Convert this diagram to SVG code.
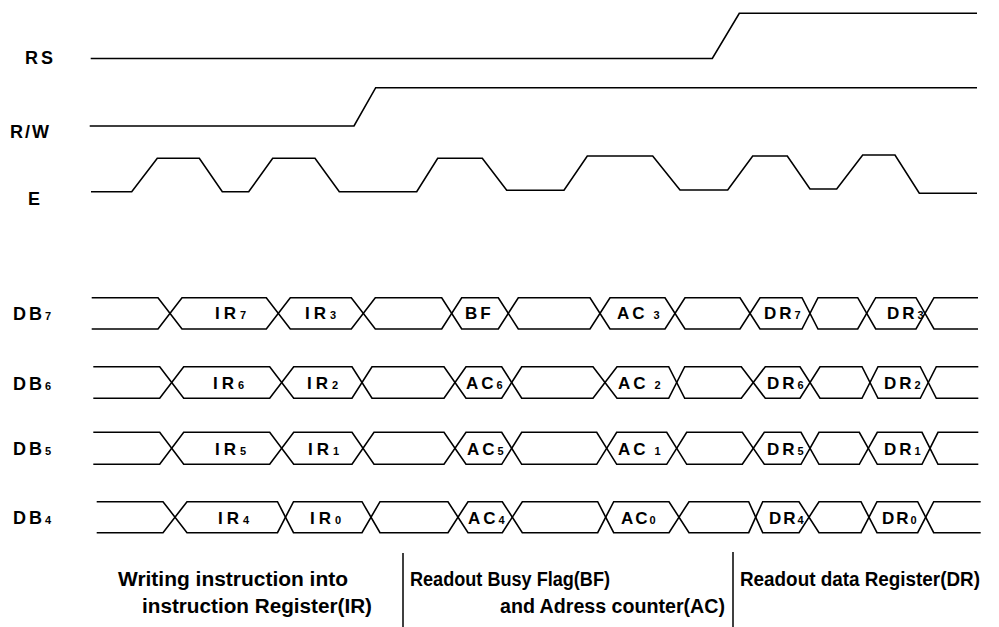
<svg xmlns="http://www.w3.org/2000/svg" width="999" height="627" viewBox="0 0 999 627">
<style>
.w{fill:none;stroke:#000;stroke-width:1.6;stroke-linejoin:miter}
.d{stroke:#000;stroke-width:1.5}
.t{font-family:"Liberation Sans",Arial,sans-serif;font-weight:bold;font-size:17px;fill:#000}
.l{font-size:18px}
.s{font-size:11px}
.b{font-family:"Liberation Sans",Arial,sans-serif;font-weight:bold;font-size:20px;fill:#000}
</style>
<rect width="999" height="627" fill="#fff"/>
<g id="signal-labels">
<text class="t l" x="25" y="64" letter-spacing="3">RS</text>
<text class="t l" x="10" y="138" letter-spacing="2">R/W</text>
<text class="t l" x="28" y="205">E</text>
<text class="t l" x="13" y="320" letter-spacing="3">DB<tspan class="s">7</tspan></text>
<text class="t l" x="13" y="389.5" letter-spacing="3">DB<tspan class="s">6</tspan></text>
<text class="t l" x="13" y="455" letter-spacing="3">DB<tspan class="s">5</tspan></text>
<text class="t l" x="13" y="524" letter-spacing="3">DB<tspan class="s">4</tspan></text>
</g>
<g id="connectors">
<path id="RS" class="w" d="M90.7,58.5 H712.3 L739.3,13.3 H977"/>
<path id="RW" class="w" d="M89.7,126 H354 L375.7,87.7 H977"/>
<path id="E" class="w" d="M91,191.7 H131.7 L157.3,158.3 H199.3 L222.3,191.7 H248.7 L272.7,158.3 H315 L339.3,191.7 H416.7 L437.7,158.3 H482.3 L506.7,190.3 H564 L587.3,156 H652.7 L680,190 H727.7 L752.7,156 H787.3 L810,189 H836.7 L862.7,155 H895 L919.3,193.3 H977"/>
<path class="w" d="M91.7,297.7 H158 L182,329 H266.3 L290.3,297.7 H351.3 L375.3,329 H441.7 L461.7,297.7 H498.3 L518.3,329 H590 L610,297.7 H665 L685,329 H740 L760,297.7 H802 L818,329 H857.7 L875.7,297.7 H916 L934,329 H978"/>
<path class="w" d="M91.7,329 H158 L182,297.7 H266.3 L290.3,329 H351.3 L375.3,297.7 H441.7 L461.7,329 H498.3 L518.3,297.7 H590 L610,329 H665 L685,297.7 H740 L760,329 H802 L818,297.7 H857.7 L875.7,329 H916 L934,297.7 H978"/>
<path class="w" d="M93.3,366.7 H159.7 L183.7,398.3 H269.7 L293.7,366.7 H352 L372,398.3 H444 L466,366.7 H501.7 L521.7,398.3 H593 L617,366.7 H668.7 L684.7,398.3 H741.3 L765.3,366.7 H800 L820,398.3 H862 L878,366.7 H920.3 L936.3,398.3 H978.3"/>
<path class="w" d="M93.3,398.3 H159.7 L183.7,366.7 H269.7 L293.7,398.3 H352 L372,366.7 H444 L466,398.3 H501.7 L521.7,366.7 H593 L617,398.3 H668.7 L684.7,366.7 H741.3 L765.3,398.3 H800 L820,366.7 H862 L878,398.3 H920.3 L936.3,366.7 H978.3"/>
<path class="w" d="M93.3,432.3 H159.7 L183.7,464.3 H269.7 L293.7,432.3 H352 L374,464.3 H444 L466,432.3 H501.7 L521.7,464.3 H596.7 L616.7,432.3 H666.7 L686.7,464.3 H742.3 L764.3,432.3 H801 L819,464.3 H859.3 L877.3,432.3 H922 L938,464.3 H978.3"/>
<path class="w" d="M93.3,464.3 H159.7 L183.7,432.3 H269.7 L293.7,464.3 H352 L374,432.3 H444 L466,464.3 H501.7 L521.7,432.3 H596.7 L616.7,464.3 H666.7 L686.7,432.3 H742.3 L764.3,464.3 H801 L819,432.3 H859.3 L877.3,464.3 H922 L938,432.3 H978.3"/>
<path class="w" d="M96.7,501.7 H163 L187,532.7 H277.5 L293.5,501.7 H362 L380,532.7 H448 L468,501.7 H502.3 L522.3,532.7 H597.7 L613.7,501.7 H669 L689,532.7 H748.7 L762.7,501.7 H799 L819,532.7 H861 L877,501.7 H917.7 L933.7,532.7 H980.7"/>
<path class="w" d="M96.7,532.7 H163 L187,501.7 H277.5 L293.5,532.7 H362 L380,501.7 H448 L468,532.7 H502.3 L522.3,501.7 H597.7 L613.7,532.7 H669 L689,501.7 H748.7 L762.7,532.7 H799 L819,501.7 H861 L877,532.7 H917.7 L933.7,501.7 H980.7"/>
<line class="d" x1="403" y1="553" x2="403" y2="627"/>
<line class="d" x1="733" y1="552" x2="733" y2="627"/>
</g>
<g id="row-DB7">
<text class="t" x="215" y="319" letter-spacing="4">IR<tspan class="s">7</tspan></text>
<text class="t" x="305" y="319" letter-spacing="4">IR<tspan class="s">3</tspan></text>
<text class="t" x="465" y="319" letter-spacing="3">BF</text>
<text class="t" x="617" y="319" letter-spacing="3">AC<tspan class="s"> 3</tspan></text>
<text class="t" x="764" y="319" letter-spacing="3">DR<tspan class="s">7</tspan></text>
<text class="t" x="887" y="319" letter-spacing="3">DR<tspan class="s">3</tspan></text>
</g>
<g id="row-DB6">
<text class="t" x="213" y="389" letter-spacing="4">IR<tspan class="s">6</tspan></text>
<text class="t" x="307" y="389" letter-spacing="4">IR<tspan class="s">2</tspan></text>
<text class="t" x="466" y="389" letter-spacing="3">AC<tspan class="s">6</tspan></text>
<text class="t" x="618" y="389" letter-spacing="3">AC<tspan class="s"> 2</tspan></text>
<text class="t" x="767" y="389" letter-spacing="3">DR<tspan class="s">6</tspan></text>
<text class="t" x="884" y="389" letter-spacing="3">DR<tspan class="s">2</tspan></text>
</g>
<g id="row-DB5">
<text class="t" x="215" y="455" letter-spacing="4">IR<tspan class="s">5</tspan></text>
<text class="t" x="308" y="455" letter-spacing="4">IR<tspan class="s">1</tspan></text>
<text class="t" x="467" y="455" letter-spacing="3">AC<tspan class="s">5</tspan></text>
<text class="t" x="618" y="455" letter-spacing="3">AC<tspan class="s"> 1</tspan></text>
<text class="t" x="767" y="455" letter-spacing="3">DR<tspan class="s">5</tspan></text>
<text class="t" x="884" y="455" letter-spacing="3">DR<tspan class="s">1</tspan></text>
</g>
<g id="row-DB4">
<text class="t" x="218" y="524" letter-spacing="4">IR<tspan class="s">4</tspan></text>
<text class="t" x="310" y="524" letter-spacing="4">IR<tspan class="s">0</tspan></text>
<text class="t" x="468" y="524" letter-spacing="3">AC<tspan class="s">4</tspan></text>
<text class="t" x="621" y="524" letter-spacing="2">AC<tspan class="s">0</tspan></text>
<text class="t" x="769" y="524" letter-spacing="2">DR<tspan class="s">4</tspan></text>
<text class="t" x="882" y="524" letter-spacing="2">DR<tspan class="s">0</tspan></text>
</g>
<g id="captions">
<text class="b" x="118" y="586" textLength="230" lengthAdjust="spacingAndGlyphs">Writing instruction into</text>
<text class="b" x="142" y="613" textLength="230" lengthAdjust="spacingAndGlyphs">instruction Register(IR)</text>
<text class="b" x="410" y="586" textLength="200" lengthAdjust="spacingAndGlyphs">Readout Busy Flag(BF)</text>
<text class="b" x="500" y="613" textLength="225" lengthAdjust="spacingAndGlyphs">and Adress counter(AC)</text>
<text class="b" x="740" y="586" textLength="240" lengthAdjust="spacingAndGlyphs">Readout data Register(DR)</text>
</g>
</svg>
